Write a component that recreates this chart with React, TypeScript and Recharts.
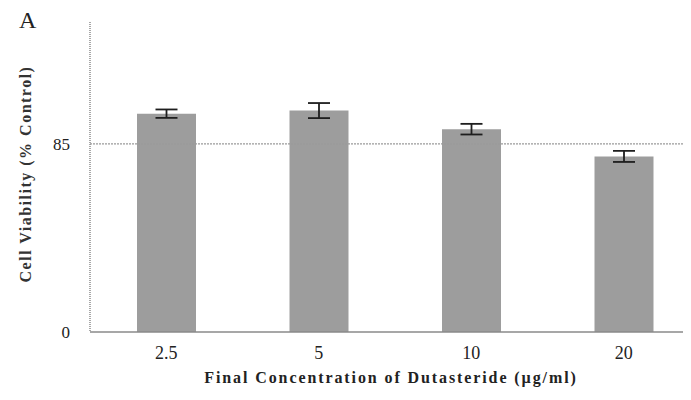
import React from 'react';
import {
    BarChart,
    Bar,
    XAxis,
    YAxis,
    ReferenceLine,
    ErrorBar,
} from 'recharts';

// Dutasteride concentrations (µg/ml) and viability as % of control
const concentrations = ['2.5', '5', '10', '20'];
const viability = [98.6, 100.0, 91.6, 79.3];
const viabilityErr = [1.9, 3.4, 2.4, 2.5];
const yTicks = [0, 85];

const chartData = concentrations.map((c, i) => ({
    conc: c,
    value: viability[i],
    err: viabilityErr[i],
}));

const serif = '"Liberation Serif", "DejaVu Serif", serif';

const App: React.FC = () => {
    return (
        <div
            style={{
                position: 'relative',
                margin: '-8px 0 0 -8px',
                width: 691,
                height: 400,
                overflow: 'hidden',
                background: '#fff',
                fontFamily: serif,
            }}
        >
            <BarChart
                width={710}
                height={400}
                data={chartData}
                margin={{ top: 22, right: 10, left: 0, bottom: 38 }}
                barSize={59}
            >
                <XAxis
                    dataKey="conc"
                    height={30}
                    axisLine={{ stroke: '#8a8a8a', strokeWidth: 1.5 }}
                    tickLine={false}
                    tick={{ fontSize: 18, fill: '#222', fontFamily: serif }}
                    tickMargin={8}
                />
                <YAxis
                    width={90}
                    domain={[0, 140]}
                    ticks={yTicks}
                    axisLine={{ stroke: '#8a8a8a', strokeWidth: 1.5, strokeDasharray: '1 1' }}
                    tickLine={false}
                    tick={{ fontSize: 17, fill: '#222', fontFamily: serif }}
                    tickMargin={14}
                />
                <ReferenceLine y={85} stroke="#9a9a9a" strokeWidth={1.2} strokeDasharray="2 1" />
                <Bar dataKey="value" fill="#9d9d9d" isAnimationActive={false}>
                    <ErrorBar dataKey="err" width={11} stroke="#1e1e1e" strokeWidth={1.8} />
                </Bar>
            </BarChart>

            <div style={{ position: 'absolute', left: 19, top: 7, fontSize: 24, color: '#222' }}>A</div>

            <div
                style={{
                    position: 'absolute',
                    left: 26 - 120,
                    top: 174 - 10,
                    width: 240,
                    height: 20,
                    lineHeight: '20px',
                    textAlign: 'center',
                    transform: 'rotate(-90deg)',
                    fontSize: 16,
                    fontWeight: 'bold',
                    letterSpacing: 1.5,
                    color: '#333',
                    whiteSpace: 'nowrap',
                }}
            >
                Cell Viability (% Control)
            </div>

            <div
                style={{
                    position: 'absolute',
                    left: 391 - 220,
                    top: 378 - 10,
                    width: 440,
                    height: 20,
                    lineHeight: '20px',
                    textAlign: 'center',
                    fontSize: 16,
                    fontWeight: 'bold',
                    letterSpacing: 1.9,
                    color: '#222',
                    whiteSpace: 'nowrap',
                }}
            >
                Final Concentration of Dutasteride (µg/ml)
            </div>
        </div>
    );
};

export default App;
